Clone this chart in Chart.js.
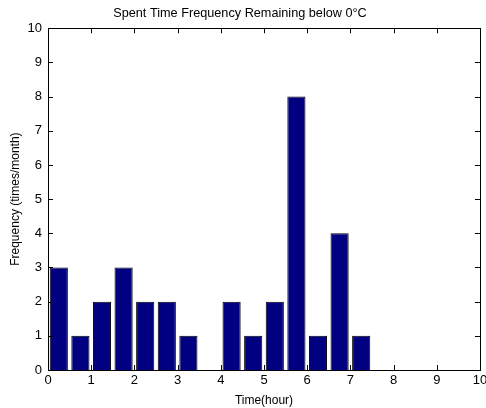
<!DOCTYPE html>
<html>
<head>
<meta charset="utf-8">
<script src="https://cdn.jsdelivr.net/npm/chart.js@4"></script>
<style>
  html, body { margin: 0; padding: 0; background: #fff; }
  #wrap { width: 486px; height: 408px; }
</style>
</head>
<body>
<div id="wrap"><canvas id="freqChart"></canvas></div>
<script>
// half-hour bins (hours) and monthly counts
const binCenters = [0.25, 0.75, 1.25, 1.75, 2.25, 2.75, 3.25, 3.75, 4.25, 4.75, 5.25, 5.75, 6.25, 6.75, 7.25];
const frequencies = [3, 1, 2, 3, 2, 2, 1, 0, 2, 1, 2, 8, 1, 4, 1];
const xTicks = [0, 1, 2, 3, 4, 5, 6, 7, 8, 9, 10];
const yTicks = [0, 1, 2, 3, 4, 5, 6, 7, 8, 9, 10];

const FONT = 'Liberation Sans, Arial, Helvetica, sans-serif';

// box around the axes with short inward ticks on every side
const boxTicks = {
    id: 'boxTicks',
    afterDraw(chart) {
        const { ctx, chartArea: a, scales } = chart;
        const len = 5;
        ctx.save();
        ctx.strokeStyle = '#000';
        ctx.lineWidth = 1;
        ctx.beginPath();
        xTicks.forEach(v => {
            const px = Math.round(scales.x.getPixelForValue(v)) + 0.5;
            ctx.moveTo(px, a.bottom); ctx.lineTo(px, a.bottom - len);
            ctx.moveTo(px, a.top); ctx.lineTo(px, a.top + len);
        });
        yTicks.forEach(v => {
            const py = Math.round(scales.y.getPixelForValue(v)) + 0.5;
            ctx.moveTo(a.left, py); ctx.lineTo(a.left + len, py);
            ctx.moveTo(a.right, py); ctx.lineTo(a.right - len, py);
        });
        ctx.stroke();
        ctx.strokeRect(Math.round(a.left) + 0.5, Math.round(a.top) + 0.5,
            Math.round(a.right - a.left), Math.round(a.bottom - a.top));
        ctx.restore();
    }
};

new Chart(document.getElementById('freqChart').getContext('2d'), {
    type: 'bar',
    data: {
        datasets: [{
            data: binCenters.map((x, i) => ({ x: x, y: frequencies[i] })),
            backgroundColor: '#000080',
            borderColor: '#000000',
            borderWidth: 1,
            barPercentage: 0.84,
            categoryPercentage: 1
        }]
    },
    options: {
        responsive: true,
        maintainAspectRatio: false,
        animation: false,
        layout: { padding: { left: 0, right: 6, top: 0, bottom: 0 } },
        scales: {
            x: {
                type: 'linear',
                min: 0,
                max: 10,
                offset: false,
                afterBuildTicks: s => { s.ticks = xTicks.map(v => ({ value: v })); },
                afterFit: s => { s.height = 38; s.paddingLeft = 0; s.paddingRight = 0; },
                grid: { display: false, drawTicks: false },
                border: { display: false },
                ticks: { color: '#000', font: { family: FONT, size: 13 }, padding: 3, maxRotation: 0 },
                title: {
                    display: true,
                    text: 'Time(hour)',
                    color: '#000',
                    font: { family: FONT, size: 12 },
                    padding: { top: 2, bottom: 0 }
                }
            },
            y: {
                min: 0,
                max: 10,
                afterBuildTicks: s => { s.ticks = yTicks.map(v => ({ value: v })); },
                afterFit: s => { s.width = 48; },
                grid: { display: false, drawTicks: false },
                border: { display: false },
                ticks: { color: '#000', font: { family: FONT, size: 13 }, padding: 6 },
                title: {
                    display: true,
                    text: 'Frequency (times/month)',
                    color: '#000',
                    font: { family: FONT, size: 12 },
                    padding: { top: 8, bottom: 0 }
                }
            }
        },
        plugins: {
            legend: { display: false },
            tooltip: { enabled: false },
            title: {
                display: true,
                text: 'Spent Time Frequency Remaining below 0°C',
                color: '#000',
                font: { family: FONT, size: 12.7, weight: 'normal' },
                padding: { top: 6, bottom: 7 }
            }
        }
    },
    plugins: [boxTicks]
});
</script>
</body>
</html>
